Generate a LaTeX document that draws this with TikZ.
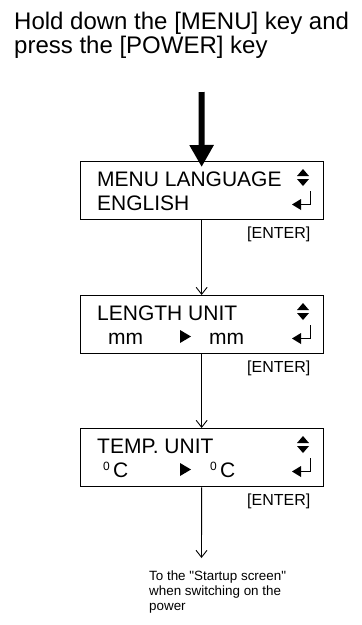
\documentclass[tikz,border=0pt]{standalone}
\usepackage{fontspec}
\setmainfont{Liberation Sans}
\usetikzlibrary{arrows.meta}
\begin{document}
\begin{tikzpicture}[x=1pt,y=-1pt,
  panel/.style={draw, line width=1.3pt, minimum width=243pt, minimum height=58pt, anchor=north west, inner sep=0pt},
  lcd/.style={anchor=base west, inner sep=0pt, font=\fontsize{21}{24}\selectfont},
  deg/.style={anchor=base west, inner sep=0pt, font=\fontsize{12}{14}\selectfont},
  enterlbl/.style={anchor=base west, inner sep=0pt, font=\fontsize{16}{19}\selectfont},
  flow/.style={line width=0.9pt, -{Straight Barb[length=7pt,width=11pt,line width=0.9pt]}},
  big/.style={line width=6pt, -{Triangle[length=22pt,width=23pt]}},
  updown/.pic={\fill (-6,-1.5) -- (6,-1.5) -- (0,-8.5) -- cycle;
               \fill (-6,1.5) -- (6,1.5) -- (0,8.5) -- cycle;},
  enterkey/.pic={\fill (0,0) -- (9,-5.5) -- (9,5.5) -- cycle;
                 \draw[line width=1.4pt] (8,0) -- (18.5,0) -- (18.5,-14);},
  rtri/.pic={\fill (0,-6.5) -- (11,0) -- (0,6.5) -- cycle;}
]
\useasboundingbox (0,0) rectangle (362,625);

% title (base anchor = baseline of the last line)
\node[anchor=base west, inner sep=0pt, align=left, font=\fontsize{24}{24}\selectfont] (title) at (14,53)
  {Hold down the [MENU] key and\\press the [POWER] key};
\coordinate (bigstart) at (201.5,92);

% panel 1
\node[panel] (b1) at (79.5,161) {};
\node[lcd] (b1l1) at (97,186) {MENU LANGUAGE};
\node[lcd] (b1l2) at (97,210) {ENGLISH};
\pic at (303,177.5) {updown};
\pic at (292,204.5) {enterkey};
\node[enterlbl] (e1) at (247,238) {[ENTER]};

% panel 2
\node[panel] (b2) at (79.5,295) {};
\node[lcd] (b2l1) at (97,320) {LENGTH UNIT};
\node[lcd] (b2l2a) at (108,344) {mm};
\pic at (180,336.5) {rtri};
\node[lcd] (b2l2b) at (209,344) {mm};
\pic at (303,311.5) {updown};
\pic at (292,338.5) {enterkey};
\node[enterlbl] (e2) at (247,372) {[ENTER]};

% panel 3
\node[panel] (b3) at (79.5,428) {};
\node[lcd] (b3l1) at (97,453) {TEMP. UNIT};
\node[deg] (b3d1) at (103,470) {0};
\node[lcd] (b3c1) at (113,477) {C};
\pic at (180,469.5) {rtri};
\node[deg] (b3d2) at (210,470) {0};
\node[lcd] (b3c2) at (220,477) {C};
\pic at (303,444.5) {updown};
\pic at (292,471.5) {enterkey};
\node[enterlbl] (e3) at (247,505) {[ENTER]};

% note (base anchor = baseline of the last line)
\node[anchor=base west, inner sep=0pt, align=left, font=\fontsize{13.4}{15}\selectfont] (note) at (149,610)
  {To the \textquotedbl Startup screen\textquotedbl\\when switching on the\\power};
\coordinate (noteend) at (201.5,558);

% connectors
\draw[big] (bigstart) -- ([yshift=-6pt]b1.north);
\draw[flow] (b1.south) -- (b2.north);
\draw[flow] (b2.south) -- (b3.north);
\draw[flow] (b3.south) -- (noteend);
\end{tikzpicture}
\end{document}
